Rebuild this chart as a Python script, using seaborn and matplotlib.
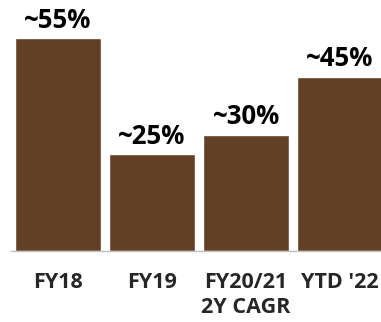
import matplotlib
matplotlib.use("Agg")
import matplotlib.pyplot as plt
import seaborn as sns
import pandas as pd

categories = ["FY18", "FY19", "FY20/21\n2Y CAGR", "YTD '22"]
values = [55, 25, 30, 45]
labels = ["~55%", "~25%", "~30%", "~45%"]

sns.set_style("white")
plt.rcParams['font.family'] = ['Open Sans', 'DejaVu Sans']

df = pd.DataFrame({"cat": categories, "val": values})

fig = plt.figure(figsize=(3.81, 3.22), dpi=100)
ax = fig.add_axes([11/381, 71.3/322, 376/381, 250.7/322])
sns.barplot(data=df, x="cat", y="val", color="#623F25", saturation=1,
            width=0.915, ax=ax)
ax.set_ylim(0, 64.83)
ax.set_xlim(-0.5, 3.5)
for i, (v, t) in enumerate(zip(values, labels)):
    ax.annotate(t, (i, v), xytext=(0, 7.5), textcoords="offset points",
                ha="center", va="baseline", fontsize=18.5, fontweight="bold",
                color="black")
ax.set_xlabel("")
ax.set_ylabel("")
ax.set_yticks([])
ax.tick_params(axis="x", length=0, pad=15)
for lbl in ax.get_xticklabels():
    lbl.set_fontsize(15.5)
    lbl.set_fontweight("bold")
    lbl.set_linespacing(1.3)
for s in ["top", "left", "right"]:
    ax.spines[s].set_visible(False)
ax.spines["bottom"].set_color("#BFBFBF")
ax.spines["bottom"].set_linewidth(1.0)
fig.savefig("out.png", dpi=100)
